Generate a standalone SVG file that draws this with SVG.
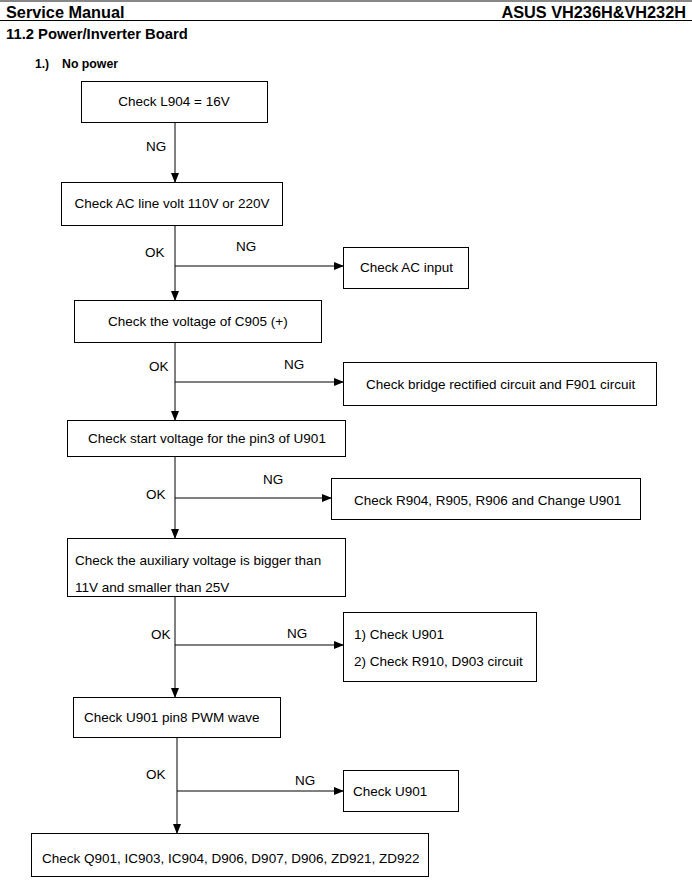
<svg xmlns="http://www.w3.org/2000/svg" width="692" height="887" viewBox="0 0 692 887">
<defs>
<marker id="arr" markerWidth="10" markerHeight="8" refX="9" refY="4" orient="auto" markerUnits="userSpaceOnUse">
<path d="M0,0 L10,4 L0,8 Z" fill="#000"/>
</marker>
<style>
.box{fill:#fff;stroke:#000;stroke-width:1}
.t{font-family:"Liberation Sans",Arial,sans-serif;font-size:13.5px;fill:#000}
.h{font-family:"Liberation Sans",Arial,sans-serif;font-weight:bold;fill:#000}
.ln{fill:none;stroke:#000;stroke-width:1}
</style>
</defs>
<rect width="692" height="887" fill="#fff"/>
<g id="header">
<rect x="0" y="0" width="692" height="2" fill="#888"/>
<text class="h" x="6" y="18" font-size="16.3">Service Manual</text>
<text class="h" x="686" y="18" font-size="16.3" text-anchor="end">ASUS VH236H&amp;VH232H</text>
<line x1="0" y1="20.5" x2="692" y2="20.5" stroke="#000" stroke-width="1"/>
<text class="h" x="6" y="39" font-size="14.8">11.2 Power/Inverter Board</text>
<text class="h" x="35" y="68" font-size="12">1.)</text>
<text class="h" x="62" y="68" font-size="12.3">No power</text>
</g>
<g id="connectors">
<line class="ln" x1="175" y1="122" x2="175" y2="182" marker-end="url(#arr)"/>
<text class="t" x="146" y="151">NG</text>
<line class="ln" x1="175" y1="225" x2="175" y2="300" marker-end="url(#arr)"/>
<line class="ln" x1="175" y1="266" x2="343" y2="266" marker-end="url(#arr)"/>
<text class="t" x="145" y="257">OK</text>
<text class="t" x="236" y="251">NG</text>
<line class="ln" x1="175" y1="342" x2="175" y2="420" marker-end="url(#arr)"/>
<line class="ln" x1="175" y1="382" x2="343" y2="382" marker-end="url(#arr)"/>
<text class="t" x="149" y="371">OK</text>
<text class="t" x="284" y="369">NG</text>
<line class="ln" x1="175" y1="456" x2="175" y2="538" marker-end="url(#arr)"/>
<line class="ln" x1="175" y1="498" x2="331" y2="498" marker-end="url(#arr)"/>
<text class="t" x="146" y="499">OK</text>
<text class="t" x="263" y="484">NG</text>
<line class="ln" x1="175" y1="596" x2="175" y2="697" marker-end="url(#arr)"/>
<line class="ln" x1="175" y1="645" x2="343" y2="645" marker-end="url(#arr)"/>
<text class="t" x="151" y="639">OK</text>
<text class="t" x="287" y="638">NG</text>
<line class="ln" x1="177" y1="737" x2="177" y2="833" marker-end="url(#arr)"/>
<line class="ln" x1="177" y1="791" x2="343" y2="791" marker-end="url(#arr)"/>
<text class="t" x="146" y="779">OK</text>
<text class="t" x="295" y="785">NG</text>
</g>
<g id="n1"><rect class="box" x="81.5" y="81.5" width="186" height="41"/><text class="t" x="174" y="106" text-anchor="middle">Check L904 = 16V</text></g>
<g id="n2"><rect class="box" x="61.5" y="182.5" width="221" height="43"/><text class="t" x="172" y="208" text-anchor="middle">Check AC line volt 110V or 220V</text></g>
<g id="n3"><rect class="box" x="343.5" y="247.5" width="125" height="41"/><text class="t" x="360" y="272">Check AC input</text></g>
<g id="n4"><rect class="box" x="74.5" y="300.5" width="247" height="42"/><text class="t" x="108" y="326">Check the voltage of C905 (+)</text></g>
<g id="n5"><rect class="box" x="343.5" y="362.5" width="313" height="43"/><text class="t" x="366" y="389">Check bridge rectified circuit and F901 circuit</text></g>
<g id="n6"><rect class="box" x="67.5" y="420.5" width="278" height="36"/><text class="t" x="88" y="443">Check start voltage for the pin3 of U901</text></g>
<g id="n7"><rect class="box" x="331.5" y="478.5" width="309" height="41"/><text class="t" x="354" y="505">Check R904, R905, R906 and Change U901</text></g>
<g id="n8"><rect class="box" x="67.5" y="538.5" width="278" height="58"/><text class="t" x="75" y="565">Check the auxiliary voltage is bigger than</text><text class="t" x="75" y="592">11V and smaller than 25V</text></g>
<g id="n9"><rect class="box" x="343.5" y="612.5" width="193" height="69"/><text class="t" x="354" y="639">1) Check U901</text><text class="t" x="354" y="666">2) Check R910, D903 circuit</text></g>
<g id="n10"><rect class="box" x="73.5" y="697.5" width="207" height="40"/><text class="t" x="84" y="722">Check U901 pin8 PWM wave</text></g>
<g id="n11"><rect class="box" x="343.5" y="770.5" width="115" height="41"/><text class="t" x="353" y="796">Check U901</text></g>
<g id="n12"><rect class="box" x="31.5" y="833.5" width="397" height="43"/><text class="t" x="42" y="863">Check Q901, IC903, IC904, D906, D907, D906, ZD921, ZD922</text></g>
</svg>
